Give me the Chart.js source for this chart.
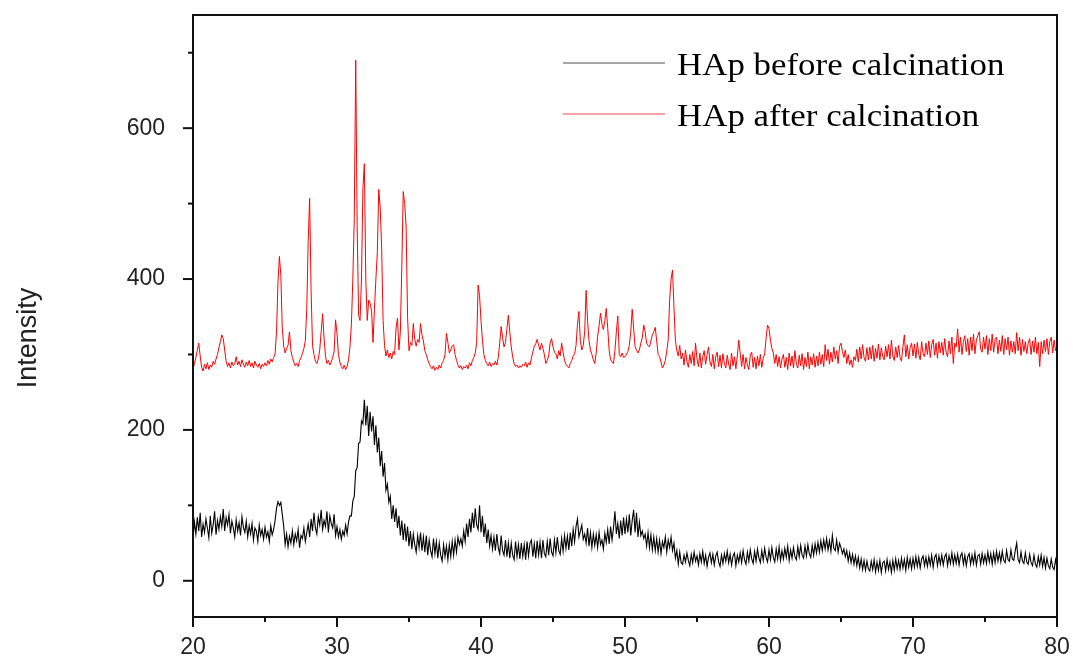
<!DOCTYPE html>
<html>
<head>
<meta charset="utf-8">
<script src="https://cdn.jsdelivr.net/npm/chart.js@4.4.1/dist/chart.umd.min.js"></script>
<style>
  html, body { margin: 0; padding: 0; background: #fff; }
  canvas { display: block; }
</style>
</head>
<body>
<canvas id="xrd" width="1073" height="659"></canvas>
<script>
// Scan grid: 2-theta from 20 to 80 deg, 0.1 deg step
const scanStart = 20
const scanStep = 0.1

const seriesNames = ['HAp before calcination', 'HAp after calcination']

// Intensity, one row per degree (20.0 .. 20.9, 21.0 .. 21.9, ...)
const beforeCalcination = [
  55, 78, 62, 84, 66, 90, 58, 75, 64, 82,
  70, 57, 86, 63, 74, 92, 61, 80, 68, 85,
  72, 95, 66, 84, 74, 88, 63, 79, 70, 58,
  81, 66, 77, 60, 85, 71, 64, 79, 58, 73,
  62, 76, 54, 70, 66, 52, 74, 60, 68, 55,
  71, 58, 65, 52, 73, 61, 68, 80, 96, 105,
  100, 104, 88, 72, 48, 62, 45, 59, 50, 66,
  48, 62, 53, 68, 44, 60, 56, 70, 52, 64,
  75, 58, 82, 66, 90, 70, 62, 85, 74, 94,
  68, 80, 72, 92, 64, 86, 76, 70, 88, 60,
  72, 58, 68, 55, 66, 60, 74, 62, 78, 86,
  86, 106, 112, 146, 150, 182, 184, 212, 208, 240,
  206, 232, 192, 224, 198, 218, 180, 206, 170, 190,
  152, 172, 138, 156, 120, 128, 104, 112, 82, 100,
  78, 96, 70, 86, 60, 80, 54, 76, 52, 72,
  46, 66, 42, 62, 48, 38, 60, 44, 64, 40,
  58, 38, 60, 34, 54, 40, 32, 56, 36, 52,
  30, 50, 34, 26, 48, 32, 46, 28, 48, 32,
  52, 34, 54, 38, 58, 48, 56, 46, 66, 52,
  76, 58, 82, 64, 90, 70, 96, 74, 68, 100,
  64, 86, 58, 76, 50, 68, 46, 60, 42, 58,
  40, 62, 44, 36, 60, 40, 34, 54, 32, 50,
  30, 50, 34, 28, 52, 32, 48, 29, 50, 32,
  48, 28, 52, 33, 50, 54, 32, 49, 30, 53,
  34, 51, 30, 54, 36, 32, 52, 34, 56, 38,
  33, 54, 37, 58, 40, 35, 56, 39, 60, 43,
  59, 41, 64, 46, 68, 52, 72, 82, 58, 66,
  74, 55, 62, 50, 70, 46, 64, 44, 62, 47,
  61, 44, 64, 48, 54, 42, 63, 51, 68, 49,
  72, 54, 70, 92, 62, 76, 56, 80, 60, 84,
  62, 82, 64, 88, 60, 80, 94, 64, 90, 58,
  78, 60, 66, 56, 62, 46, 64, 44, 61, 41,
  58, 40, 56, 38, 54, 36, 52, 44, 58, 38,
  54, 44, 58, 40, 50, 30, 40, 22, 38, 24,
  22, 34, 25, 37, 27, 20, 35, 24, 38, 26,
  33, 21, 36, 25, 39, 23, 34, 19, 31, 37,
  24, 35, 21, 33, 38, 25, 19, 34, 23, 36,
  26, 39, 24, 35, 21, 33, 37, 20, 34, 25,
  37, 24, 40, 28, 22, 38, 26, 41, 29, 23,
  39, 26, 42, 30, 24, 40, 27, 43, 31, 25,
  41, 28, 44, 31, 25, 42, 29, 45, 27, 40,
  29, 43, 31, 46, 27, 41, 30, 44, 32, 28,
  45, 32, 47, 34, 30, 46, 33, 48, 36, 31,
  47, 34, 49, 37, 51, 38, 53, 40, 54, 42,
  56, 41, 53, 39, 60, 43, 40, 54, 38, 50,
  44, 36, 42, 32, 40, 26, 37, 24, 35, 22,
  33, 20, 31, 17, 29, 15, 27, 14, 26, 16,
  13, 26, 15, 28, 12, 25, 14, 27, 11, 24,
  26, 13, 28, 15, 25, 11, 27, 14, 29, 16,
  27, 15, 30, 17, 28, 14, 31, 18, 29, 16,
  30, 18, 32, 19, 31, 17, 29, 33, 20, 31,
  19, 32, 21, 34, 18, 31, 35, 20, 33, 22,
  34, 21, 32, 36, 20, 33, 23, 37, 22, 34,
  23, 35, 21, 33, 37, 22, 34, 20, 32, 36,
  22, 34, 23, 37, 21, 33, 35, 22, 36, 24,
  34, 23, 38, 25, 36, 22, 37, 24, 39, 26,
  37, 25, 39, 27, 24, 40, 28, 26, 41, 29,
  27, 40, 50, 28, 24, 38, 26, 23, 37, 25,
  22, 35, 24, 20, 34, 22, 18, 32, 21, 34,
  19, 31, 17, 30, 20, 16, 29, 18, 15, 28,
  18
]

const afterCalcination = [
  280, 288, 296, 306, 315, 298, 283, 278, 287, 281,
  289, 280, 286, 283, 291, 287, 294, 300, 309, 317,
  326, 321, 306, 291, 284, 289, 282, 290, 285, 288,
  297, 286, 291, 284, 293, 287, 283, 290, 285, 292,
  284, 289, 282, 291, 286, 283, 288, 281, 287, 284,
  289, 285, 292, 287, 294, 290, 296, 301, 330, 395,
  430, 405, 335, 311, 302, 308, 312, 330, 305, 296,
  290, 285, 288, 284, 292, 296, 301, 308, 318, 360,
  450, 507, 385, 312, 300, 291, 288, 294, 306, 330,
  354, 322, 298, 288, 292, 286, 290, 296, 304, 346,
  328, 300, 290, 284, 281, 286, 280, 284, 293, 310,
  340, 400, 480, 690, 470, 352, 345, 400, 520, 553,
  400, 345, 372, 368, 358, 316, 360, 400, 435, 519,
  495, 442, 345, 312, 298, 306, 296, 302, 294, 304,
  300, 335, 348, 306, 330, 416, 516, 500, 470, 350,
  305, 316, 312, 341, 320, 311, 320, 316, 341, 326,
  318, 305, 300, 293, 288, 284, 281, 285, 279, 283,
  280, 286, 282, 289, 292, 300, 328, 316, 302, 306,
  311, 313, 300, 292, 286, 282, 285, 280, 284, 282,
  286, 281, 289, 285, 292, 296, 302, 316, 392, 378,
  345, 319, 300, 292, 288, 285, 290, 284, 288, 286,
  291, 286, 296, 315, 337, 322, 310, 316, 334, 352,
  330, 310, 297, 288, 284, 286, 282, 285, 283, 287,
  285, 290, 283, 289, 286, 295, 303, 311, 314, 320,
  312, 306, 315, 308, 300, 288, 292, 298, 315, 321,
  310, 303, 301, 294, 305, 298, 315, 303, 292, 287,
  284, 282, 288, 292, 298, 301, 312, 340, 357, 318,
  306, 312, 330, 385, 345, 318, 306, 300, 293, 288,
  302, 324, 338, 355, 340, 333, 345, 361, 335, 305,
  293, 290, 288, 305, 330, 351, 300, 297, 302, 296,
  297, 300, 304, 312, 330, 360, 335, 310, 306, 302,
  306, 315, 322, 339, 330, 315, 312, 310, 318, 326,
  330, 336, 318, 300, 297, 290, 282, 286, 292, 305,
  319, 372, 400, 412, 363, 319, 305, 298, 312, 294,
  302, 286, 306, 291, 283, 300, 288, 304, 285, 315,
  294, 284, 302, 282, 297, 305, 287, 300, 310, 290,
  284, 300, 281, 297, 303, 284, 299, 282, 301, 288,
  282, 299, 287, 280, 302, 285, 297, 281, 298, 319,
  302, 284, 300, 281, 296, 286, 280, 299, 303, 283,
  296, 281, 298, 285, 300, 283, 295, 301, 322, 339,
  334, 319, 308, 302, 288, 300, 284, 297, 282, 294,
  300, 283, 296, 280, 302, 285, 298, 282, 305, 287,
  282, 299, 285, 301, 280, 296, 284, 303, 281, 297,
  286, 301, 283, 298, 285, 303, 287, 300, 284, 313,
  292, 307, 287, 303, 290, 310, 294, 305, 288, 311,
  315, 304, 296, 306, 288, 300, 286, 293, 283, 297,
  292, 307, 290, 310, 294, 313, 296, 291, 309, 293,
  310, 294, 312, 291, 308, 295, 314, 293, 309, 297,
  293, 311, 297, 313, 294, 319, 298, 292, 310, 296,
  312, 296, 291, 310, 326, 297, 313, 294, 309, 315,
  298, 314, 295, 316, 300, 293, 317, 301, 297, 315,
  300, 318, 296, 313, 320, 299, 315, 295, 317, 302,
  316, 299, 321, 303, 297, 318, 301, 323, 288, 315,
  310, 334, 303, 323, 300, 317, 325, 304, 321, 299,
  323, 305, 327, 301, 319, 325, 330, 307, 303, 323,
  307, 325, 300, 321, 305, 327, 303, 320, 323, 301,
  319, 304, 325, 300, 321, 306, 323, 299, 318, 303,
  317, 301, 329, 305, 323, 299, 320, 304, 317, 301,
  315, 321, 300, 318, 303, 323, 301, 316, 284, 317,
  301, 319, 304, 321, 300, 317, 323, 302, 319, 305,
  310
]

const xMajorTicks = [20, 30, 40, 50, 60, 70, 80]
const xMinorTicks = [25, 35, 45, 55, 65, 75]
const yMajorTicks = [0, 200, 400, 600]
const yMinorTicks = [100, 300, 500, 700]

const toPoints = (values) => values.map((v, i) => ({ x: scanStart + i * scanStep, y: v }))

const TICK_FONT = '23px "Liberation Sans", Arial, sans-serif'

// Origin-style frame, ticks, labels and legend
const framePlugin = {
  id: 'frame',
  afterDraw(chart) {
    const { ctx, chartArea: a, scales: { x, y } } = chart
    ctx.save()

    ctx.strokeStyle = '#111'
    ctx.lineWidth = 2
    ctx.strokeRect(a.left, a.top, a.right - a.left, a.bottom - a.top)

    const seg = (x1, y1, x2, y2) => {
      ctx.beginPath()
      ctx.moveTo(x1, y1)
      ctx.lineTo(x2, y2)
      ctx.stroke()
    }
    xMajorTicks.forEach(v => { const p = x.getPixelForValue(v); seg(p, a.bottom, p, a.bottom + 10) })
    xMinorTicks.forEach(v => { const p = x.getPixelForValue(v); seg(p, a.bottom, p, a.bottom + 5) })
    yMajorTicks.forEach(v => { const p = y.getPixelForValue(v); seg(a.left - 10, p, a.left, p) })
    yMinorTicks.forEach(v => { const p = y.getPixelForValue(v); seg(a.left - 5, p, a.left, p) })

    ctx.fillStyle = '#222'
    ctx.font = TICK_FONT
    ctx.textAlign = 'center'
    ctx.textBaseline = 'middle'
    xMajorTicks.forEach(v => ctx.fillText(String(v), x.getPixelForValue(v), a.bottom + 31))
    ctx.textAlign = 'right'
    yMajorTicks.forEach(v => ctx.fillText(String(v), a.left - 28, y.getPixelForValue(v)))

    // y title
    ctx.save()
    ctx.translate(29, 338)
    ctx.rotate(-Math.PI / 2)
    ctx.textAlign = 'center'
    ctx.font = '27px "Liberation Sans", Arial, sans-serif'
    ctx.fillText('Intensity', 0, 0)
    ctx.restore()

    // legend
    const legendRows = [
      { label: seriesNames[0], color: '#a8a8a8', lineY: 63, textY: 67 },
      { label: seriesNames[1], color: '#f7a3a3', lineY: 114, textY: 118 },
    ]
    ctx.font = '32px "Liberation Serif", "Times New Roman", serif'
    ctx.textAlign = 'left'
    ctx.fillStyle = '#000'
    legendRows.forEach(row => {
      ctx.strokeStyle = row.color
      ctx.lineWidth = 2
      seg(563, row.lineY, 665, row.lineY)
      ctx.save()
      ctx.translate(677, row.textY)
      ctx.scale(1.09, 1)
      ctx.fillText(row.label, 0, 0)
      ctx.restore()
    })

    ctx.restore()
  }
}

new Chart(document.getElementById('xrd'), {
  type: 'line',
  data: {
    datasets: [
      {
        label: seriesNames[0],
        data: toPoints(beforeCalcination),
        borderColor: '#000000',
        borderWidth: 1.1,
        pointRadius: 0,
        tension: 0,
      },
      {
        label: seriesNames[1],
        data: toPoints(afterCalcination),
        borderColor: '#ff0000',
        borderWidth: 1,
        pointRadius: 0,
        tension: 0,
      },
    ],
  },
  options: {
    responsive: false,
    animation: false,
    parsing: false,
    normalized: true,
    layout: { padding: { left: 193, right: 16, top: 15, bottom: 42 } },
    plugins: {
      legend: { display: false },
      tooltip: { enabled: false },
    },
    scales: {
      x: { type: 'linear', min: 20, max: 80, display: false },
      y: { type: 'linear', min: -48, max: 750, display: false },
    },
  },
  plugins: [framePlugin],
})
</script>
</body>
</html>
